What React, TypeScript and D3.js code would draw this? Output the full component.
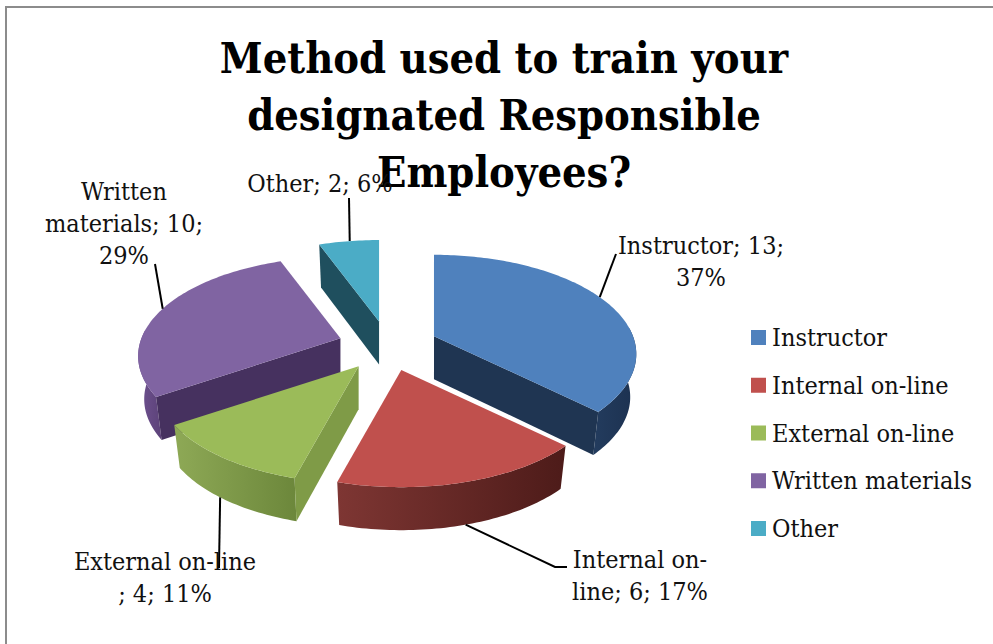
import React from "react";
import * as d3 from "d3";

const categories = ["Instructor", "Internal on-line", "External on-line", "Written materials", "Other"];
const counts = [13, 6, 4, 10, 2];
const percents = [37, 17, 11, 29, 6];
const topColors = ["#4f81bd", "#c0504d", "#9bbb59", "#8064a2", "#4bacc6"];
const radialWallColors = ["#1f3552", "#602422", "#7f9b47", "#46315f", "#1f4f5e"];
const outerWallFrom = ["#233c5e", "#7e3633", "#8ea956", "#6f5290", "#2a6577"];
const outerWallTo = ["#1c3150", "#4d1b19", "#6c873b", "#5c4279", "#235463"];
const titleLines = ["Method used to train your", "designated Responsible", "Employees?"];

const serif = "'DejaVu Serif Condensed', 'DejaVu Serif', serif";
const cx = 388, cy = 346, rx = 199, ry = 96, k = 0.18, depth = 43;
const explodeX = 50, explodeY = 25;

type P = [number, number];
const pieGen = d3.pie<number>().sort(null).startAngle(0).endAngle(2 * Math.PI);
const arcs = pieGen(counts);

const uX = d3.scaleLinear().domain([-1, 1]).range([-rx, rx]);
const vY = d3.scaleLinear().domain([-1, 1]).range([-ry, ry]);

function apex(i: number, down = 0): P {
  const m = (arcs[i].startAngle + arcs[i].endAngle) / 2;
  return [cx + explodeX * Math.sin(m), cy - explodeY * Math.cos(m) + down];
}
function rim(i: number, t: number, down = 0): P {
  const [ax, ay] = apex(i, down);
  const u = Math.sin(t), v = -Math.cos(t);
  const f = 1 / (1 - k * v);
  const squeeze = down > 0 ? 0.97 : 1;
  return [ax + uX(u) * f * squeeze, ay + vY(v) * f];
}
const line = d3.line<P>();
const closed = (pts: P[]) => (line(pts) as string) + "Z";
function sweep(a: number, b: number): number[] {
  const n = Math.max(2, Math.ceil((b - a) / 0.02));
  return d3.range(n + 1).map((j) => a + ((b - a) * j) / n);
}

const paintOrder = [4, 3, 0, 2, 1];
const FRONT_A = (85 * Math.PI) / 180;
const FRONT_B = (275 * Math.PI) / 180;

function Slice({ i }: { i: number }) {
  const { startAngle: s, endAngle: e } = arcs[i];
  const top = [apex(i), ...sweep(s, e).map((t) => rim(i, t))] as P[];
  const a = Math.max(s, FRONT_A);
  const b = Math.min(e, FRONT_B);
  const showOuter = b > a;
  const outer = showOuter
    ? [...sweep(a, b).map((t) => rim(i, t)), ...sweep(a, b).reverse().map((t) => rim(i, t, depth))]
    : [];
  const radial = (t: number) =>
    closed([apex(i), rim(i, t), rim(i, t, depth), apex(i, depth)]);
  const startVisible = Math.sin(s) < -1e-6;
  const endVisible = Math.sin(e) > 1e-6;
  const xs = outer.map((p) => p[0]);
  return (
    <g>
      {showOuter && (
        <>
          <defs>
            <linearGradient id={`wall${i}`} gradientUnits="userSpaceOnUse" x1={d3.min(xs)} x2={d3.max(xs)} y1={0} y2={0}>
              <stop offset="0" stopColor={outerWallFrom[i]} />
              <stop offset="1" stopColor={outerWallTo[i]} />
            </linearGradient>
          </defs>
          <path d={closed(outer)} fill={`url(#wall${i})`} />
        </>
      )}
      {startVisible && <path d={radial(s)} fill={radialWallColors[i]} />}
      {endVisible && <path d={radial(e)} fill={radialWallColors[i]} />}
      <path d={closed(top)} fill={topColors[i]} />
    </g>
  );
}

const legendTop = d3.scalePoint<string>().domain(categories).range([330, 521]);
const LABEL_SIZE = 25;

function Label({ lines, x, y }: { lines: string[]; x: number; y: number }) {
  return (
    <text x={x} y={y} textAnchor="middle" fontFamily={serif} fontSize={LABEL_SIZE} fill="#111">
      {lines.map((l, j) => (
        <tspan key={j} x={x} y={y + j * 32}>{l}</tspan>
      ))}
    </text>
  );
}

const deg = (d: number) => (d * Math.PI) / 180;

export default function App() {
  const leaders: { from: P; to: P[] }[] = [
    { from: rim(0, deg(64)), to: [[616, 254]] },
    { from: rim(1, deg(164), depth), to: [[555, 567], [567, 567]] },
    { from: rim(2, deg(218), depth), to: [[219, 568]] },
    { from: rim(3, deg(289)), to: [[155, 264]] },
    { from: rim(4, deg(350)), to: [[349, 198]] },
  ];
  return (
    <svg width={993} height={644} style={{ position: "absolute", left: 0, top: 0, background: "#fff" }}>
      <path d="M993,7 H6 V644" fill="none" stroke="#8c8c8c" strokeWidth={2} />
      {paintOrder.map((i) => <Slice key={i} i={i} />)}
      {leaders.map((l, i) => (
        <path key={i} d={line([l.from, ...l.to]) as string} fill="none" stroke="#000" strokeWidth={2} />
      ))}
      {titleLines.map((t, j) => (
        <text key={t} x={504} y={73 + j * 57} textAnchor="middle" fontFamily={serif} fontWeight="bold" fontSize={43} fill="#000">{t}</text>
      ))}
      <Label lines={[`${categories[0]}; ${counts[0]};`, `${percents[0]}%`]} x={701} y={254} />
      <Label lines={["Internal on-", `line; ${counts[1]}; ${percents[1]}%`]} x={640} y={568} />
      <Label lines={[categories[2], `; ${counts[2]}; ${percents[2]}%`]} x={165} y={570} />
      <Label lines={["Written", `materials; ${counts[3]};`, `${percents[3]}%`]} x={124} y={200} />
      <Label lines={[`${categories[4]}; ${counts[4]}; ${percents[4]}%`]} x={320} y={192} />
      {categories.map((c, i) => (
        <g key={c}>
          <rect x={751} y={legendTop(c)} width={15} height={15} fill={topColors[i]} />
          <text x={772} y={(legendTop(c) as number) + 16} fontFamily={serif} fontSize={LABEL_SIZE} fill="#111">{c}</text>
        </g>
      ))}
    </svg>
  );
}
